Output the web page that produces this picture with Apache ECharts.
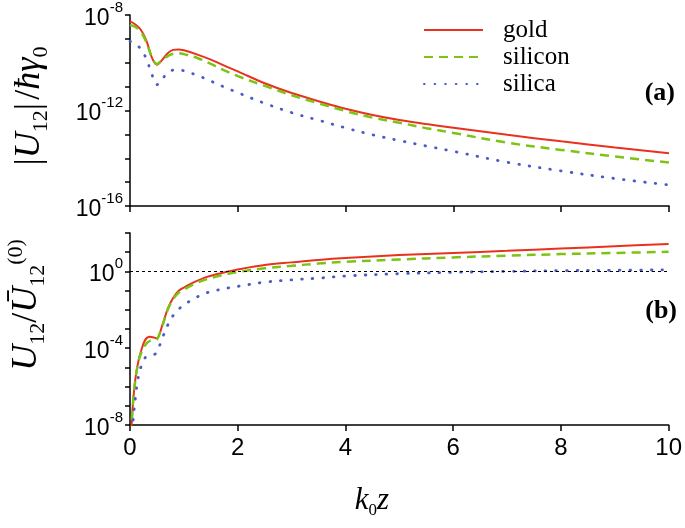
<!DOCTYPE html>
<html><head><meta charset="utf-8">
<script src="https://cdn.jsdelivr.net/npm/echarts@6/dist/echarts.min.js"></script>
<style>html,body{margin:0;padding:0;background:#fff}#c{width:685px;height:528px}</style>
</head><body><div id="c"></div>
<script>
// Panel (a): log10(|U12| / ħγ0) versus k0 z
const kTop = [0, 0.1, 0.2, 0.3, 0.4, 0.45, 0.5, 0.55, 0.6, 0.7, 0.8, 0.9, 1.0, 1.25, 1.5, 1.75, 2, 2.5, 3, 3.5, 4, 4.5, 5, 5.5, 6, 7, 8, 9, 10];
const goldTop = [-8.27, -8.4, -8.62, -9.05, -9.75, -9.98, -10.08, -10.0, -9.87, -9.6, -9.46, -9.44, -9.48, -9.66, -9.87, -10.12, -10.36, -10.86, -11.27, -11.61, -11.93, -12.19, -12.4, -12.57, -12.72, -13.02, -13.29, -13.55, -13.79];
const siliconTop = [-8.42, -8.5, -8.7, -9.12, -9.75, -9.97, -10.05, -9.98, -9.88, -9.72, -9.62, -9.6, -9.64, -9.8, -10.05, -10.32, -10.56, -10.97, -11.36, -11.7, -12.02, -12.3, -12.51, -12.74, -12.94, -13.35, -13.65, -13.93, -14.18];
const silicaTop = [-9.1, -9.22, -9.42, -9.82, -10.45, -10.75, -10.92, -10.85, -10.68, -10.42, -10.31, -10.3, -10.34, -10.53, -10.77, -11.02, -11.25, -11.7, -12.09, -12.41, -12.73, -13.02, -13.26, -13.49, -13.71, -14.17, -14.53, -14.85, -15.12];

// Panel (b): log10(U12 / Ū12^(0)) versus k0 z
const kBot = [0.02, 0.03, 0.06, 0.1, 0.15, 0.2, 0.28, 0.37, 0.45, 0.5, 0.6, 0.7, 0.8, 0.9, 1.0, 1.2, 1.4, 1.6, 1.8, 2, 2.5, 3, 3.5, 4, 5, 6, 7, 8, 9, 10];
const goldBot = [-9.3, -8.0, -6.7, -5.6, -4.75, -4.2, -3.58, -3.41, -3.45, -3.48, -2.8, -1.95, -1.38, -1.02, -0.84, -0.55, -0.31, -0.15, -0.02, 0.1, 0.33, 0.47, 0.6, 0.7, 0.85, 0.96, 1.07, 1.19, 1.31, 1.43];
const siliconBot = [-9.3, -8.0, -6.7, -5.65, -4.8, -4.3, -3.85, -3.62, -3.6, -3.55, -2.85, -2.0, -1.45, -1.12, -0.95, -0.65, -0.43, -0.27, -0.14, -0.03, 0.16, 0.29, 0.41, 0.5, 0.62, 0.73, 0.82, 0.9, 0.96, 1.02];
const silicaBot = [-10.5, -8.9, -7.7, -6.6, -5.57, -5.0, -4.5, -4.4, -4.33, -4.2, -3.48, -2.8, -2.3, -1.98, -1.75, -1.4, -1.14, -0.99, -0.87, -0.78, -0.56, -0.44, -0.35, -0.24, -0.12, -0.05, 0.0, 0.04, 0.06, 0.08];

const seriesNames = ['gold', 'silicon', 'silica'];
const xTickLabels = [0, 2, 4, 6, 8, 10];
const topDecadeLabels = [-16, -12, -8];
const botDecadeLabels = [-8, -4, 0];
const refLevel = 0; // U12 / Ū12^(0) = 1

const colors = { gold: '#e8321e', silicon: '#7cc414', silica: '#4a5bc4' };
const styles = {
  gold: { color: colors.gold, width: 2, type: 'solid' },
  silicon: { color: colors.silicon, width: 2.5, type: [9, 6] },
  silica: { color: colors.silica, width: 2.8, type: [0.6, 10], cap: 'round' }
};

const chart = echarts.init(document.getElementById('c'), null, { renderer: 'canvas' });

function pairs(xs, ys) { return xs.map((x, i) => [x, ys[i]]); }

const axisLineStyle = { color: '#000', width: 1.5 };
const tickRich = {
  b: { fontFamily: 'Liberation Sans', fontSize: 23, color: '#000', lineHeight: 30, verticalAlign: 'bottom' },
  s: { fontFamily: 'Liberation Sans', fontSize: 15, color: '#000', lineHeight: 16, verticalAlign: 'top' }
};
function yAxisDef(grid, mn, mx, labels) {
  return {
    type: 'value', gridIndex: grid, min: mn, max: mx, interval: 1,
    axisLine: { show: true, onZero: false, lineStyle: axisLineStyle },
    axisTick: { show: true, inside: false, length: 5, lineStyle: axisLineStyle },
    splitLine: { show: false },
    axisLabel: {
      margin: 7,
      formatter: v => labels.includes(v) ? '{b|10}{s|' + v + '}' : '',
      rich: tickRich
    }
  };
}
function xAxisDef(grid, showLabels) {
  return {
    type: 'value', gridIndex: grid, min: 0, max: 10, interval: 2,
    axisLine: { show: true, onZero: false, lineStyle: axisLineStyle },
    axisTick: { show: true, inside: false, length: 6, lineStyle: axisLineStyle },
    splitLine: { show: false },
    axisLabel: {
      show: showLabels, margin: 11,
      fontFamily: 'Liberation Sans', fontSize: 24, color: '#000',
      formatter: v => xTickLabels.includes(v) ? String(v) : ''
    }
  };
}
function lineSeries(name, grid, xs, ys, extra) {
  return Object.assign({
    name: name, type: 'line', xAxisIndex: grid, yAxisIndex: grid,
    data: pairs(xs, ys), showSymbol: false, symbol: 'none',
    smooth: 0.35,
    lineStyle: styles[name], itemStyle: { color: colors[name] },
    emphasis: { disabled: true }, animation: false
  }, extra || {});
}

const titleRich = {
  m: { fontFamily: 'Liberation Serif', fontStyle: 'italic', fontSize: 36, lineHeight: 44, fill: '#000', color: '#000' },
  v: { fontFamily: 'Liberation Serif', fontSize: 36, lineHeight: 44, fill: '#000', color: '#000' },
  s: { fontFamily: 'Liberation Serif', fontSize: 22, lineHeight: 22, verticalAlign: 'bottom', fill: '#000', color: '#000' },
  p: { fontFamily: 'Liberation Serif', fontSize: 22, lineHeight: 22, verticalAlign: 'top', fill: '#000', color: '#000' }
};

const option = {
  animation: false,
  backgroundColor: '#fff',
  grid: [
    { left: 130, top: 13, width: 539, height: 193 },
    { left: 130, top: 233, width: 539, height: 192 }
  ],
  xAxis: [xAxisDef(0, false), xAxisDef(1, true)],
  yAxis: [yAxisDef(0, -16, -8, topDecadeLabels), yAxisDef(1, -8, 2, botDecadeLabels)],
  legend: {
    orient: 'vertical', left: 418, top: 12, itemWidth: 59, itemHeight: 14, itemGap: 1,
    selectedMode: false,
    itemStyle: { opacity: 0, borderWidth: 0 },
    textStyle: { fontFamily: 'Liberation Serif', fontSize: 25, color: '#000', lineHeight: 26, padding: [0, 0, 0, 15] },
    data: seriesNames
  },
  series: [
    lineSeries('gold', 0, kTop, goldTop),
    lineSeries('silicon', 0, kTop, siliconTop),
    lineSeries('silica', 0, kTop, silicaTop),
    lineSeries('gold', 1, kBot, goldBot, {
      markLine: {
        silent: true, symbol: ['none', 'none'], animation: false,
        label: { show: false },
        lineStyle: { color: '#000', width: 1, type: [3, 3] },
        data: [{ yAxis: refLevel }]
      }
    }),
    lineSeries('silicon', 1, kBot, siliconBot),
    lineSeries('silica', 1, kBot, silicaBot)
  ],
  graphic: [
    { type: 'text', x: 675, y: 93, style: { text: '(a)', textAlign: 'right', align: 'right', textVerticalAlign: 'middle', verticalAlign: 'middle', font: 'bold 26px "Liberation Serif"', fill: '#000' } },
    { type: 'text', x: 677, y: 311, style: { text: '(b)', textAlign: 'right', align: 'right', textVerticalAlign: 'middle', verticalAlign: 'middle', font: 'bold 26px "Liberation Serif"', fill: '#000' } },
    { type: 'text', x: 372, y: 501, style: { text: '{m|k}{s|0}{m|z}', textAlign: 'center', align: 'center', textVerticalAlign: 'middle', verticalAlign: 'middle', rich: {
        m: { fontFamily: 'Liberation Serif', fontStyle: 'italic', fontSize: 31, lineHeight: 36, fill: '#000' },
        s: { fontFamily: 'Liberation Serif', fontSize: 17, lineHeight: 17, verticalAlign: 'bottom', fill: '#000' } } } },
    { type: 'text', x: 30, y: 106, rotation: Math.PI / 2, style: { text: '{v||}{m|U}{s|12}{v||} {v|/}{m|ħγ}{s|0}', textAlign: 'center', align: 'center', textVerticalAlign: 'middle', verticalAlign: 'middle', rich: titleRich } },
    { type: 'text', x: 27, y: 305, rotation: Math.PI / 2, style: { text: '{m|U}{s|12}{v|/}{m|Ū}{s|12}{p|(0)}', textAlign: 'center', align: 'center', textVerticalAlign: 'middle', verticalAlign: 'middle', rich: titleRich } }
  ]
};
chart.setOption(option);
</script></body></html>
